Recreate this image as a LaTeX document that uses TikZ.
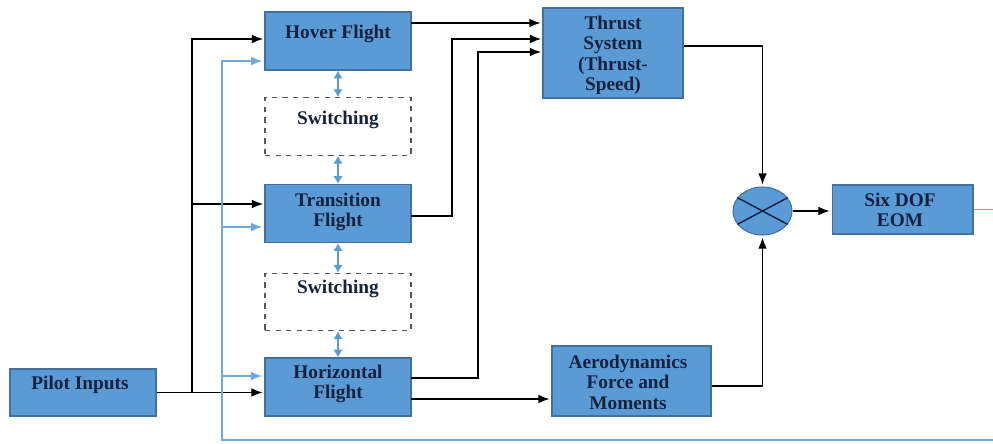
\documentclass[tikz,border=0pt]{standalone}
\usepackage{fontspec}
\setmainfont{Liberation Serif}
\usepackage{tikz}
\usetikzlibrary{shapes.geometric, arrows.meta, positioning, calc}
\definecolor{flightblue}{HTML}{5B9BD5}
\definecolor{flightedge}{HTML}{41719C}
\definecolor{flightnavy}{HTML}{14223F}
\definecolor{flightfb}{HTML}{6FA8DC}
\definecolor{flightdash}{HTML}{555555}

\begin{document}
\begin{tikzpicture}[
    x=0.02cm, y=-0.02cm,
    blk/.style={draw=flightedge, fill=flightblue, line width=0.6pt, inner sep=0pt, minimum width=2.92cm, minimum height=1.16cm},
    swbox/.style={draw=flightdash, dashed, fill=white, line width=0.6pt, inner sep=0pt, minimum width=2.92cm, minimum height=1.15cm},
    lbl/.style={font=\fontsize{11}{11.5}\selectfont\bfseries, text=flightnavy, align=center, anchor=north, inner sep=0pt},
    arr/.style={-{Latex[length=6.5pt,width=5pt]}, line width=0.9pt, black, shorten >=1pt},
    fbarr/.style={-{Latex[length=6.5pt,width=5pt]}, line width=0.9pt, flightfb, shorten >=1.5pt},
    dbl/.style={{Latex[length=4.5pt,width=5.5pt]}-{Latex[length=4.5pt,width=5.5pt]}, line width=0.9pt, flightblue}
  ]
    \useasboundingbox (0,0) rectangle (993,443);
    \clip (0,0) rectangle (993,443);
    % blocks
    \node[blk] (hover) at (338,41) {};
    \node[swbox] (sw1) at (338,126.5) {};
    \node[blk] (tflt) at (338,213.5) {};
    \node[swbox] (sw2) at (338,302) {};
    \node[blk] (hflt) at (338,387) {};
    \node[blk, minimum height=0.94cm] (pilot) at (83,392.5) {};
    \node[blk, minimum width=2.8cm, minimum height=1.8cm] (thrust) at (613,53) {};
    \node[blk, minimum width=2.82cm, minimum height=0.98cm] (six) at (902.5,209.5) {};
    \node[blk, minimum width=3.18cm, minimum height=1.4cm] (aero) at (631.5,381) {};
    \node[ellipse, draw=flightedge, fill=flightblue, line width=0.6pt, minimum width=1.18cm, minimum height=0.96cm, inner sep=0pt] (sum) at (762.5,211) {};
    \draw[flightnavy, line width=0.8pt] (sum.152) -- (sum.-28);
    \draw[flightnavy, line width=0.8pt] (sum.208) -- (sum.28);
    % texts
    \node[lbl] (hover-t) at (338,24.5) {Hover Flight};
    \node[lbl] (sw1-t) at (338,110.5) {Switching};
    \node[lbl] (tflt-t) at (338,192.5) {Transition\\Flight};
    \node[lbl] (sw2-t) at (338,280) {Switching};
    \node[lbl] (hflt-t) at (338,365) {Horizontal\\Flight};
    \node[lbl] (pilot-t) at (80,376) {Pilot Inputs};
    \node[lbl] (thrust-t) at (613,16) {Thrust\\System\\(Thrust-\\Speed)};
    \node[lbl] (six-t) at (900,193) {Six DOF\\EOM};
    \node[lbl] (aero-t) at (628,355) {Aerodynamics\\Force and\\Moments};
    % ports
    \coordinate (jb) at (192,392.5);
    \coordinate (hin1) at (265,39);
    \coordinate (hin2) at (265,61);
    \coordinate (tin1) at (265,204);
    \coordinate (tin2) at (265,227);
    \coordinate (zin2) at (265,376);
    \coordinate (fbx) at (222,440);
    \coordinate (hout) at (411,23);
    \coordinate (tout) at (411,216);
    \coordinate (zout1) at (411,378);
    \coordinate (zout2) at (411,399);
    \coordinate (thin2) at (543,39);
    \coordinate (thin3) at (543,52);
    % pilot inputs
    \draw[arr] (pilot.east) -- (hflt.west |- pilot.east);
    \draw[arr] (jb) |- (hin1);
    \draw[arr] (jb |- tin1) -- (tin1);
    % feedback
    \draw[fbarr] (six.east) -- (1000,209.5) |- (fbx) |- (hin2);
    \draw[fbarr] (fbx |- tin2) -- (tin2);
    \draw[fbarr] (fbx |- zin2) -- (zin2);
    % switching
    \draw[dbl] (hover.south) -- (sw1.north);
    \draw[dbl] (sw1.south) -- (tflt.north);
    \draw[dbl] (tflt.south) -- (sw2.north);
    \draw[dbl] (sw2.south) -- (hflt.north);
    % to thrust and aero
    \draw[arr] (hout) -- (thrust.west |- hout);
    \draw[arr] (tout) -- ++(41,0) |- (thin2);
    \draw[arr] (zout1) -- ++(67,0) |- (thin3);
    \draw[arr] (zout2) -- (aero.west |- zout2);
    % to sum and EOM
    \draw[arr] ($(thrust.east)+(0,-7)$) -| (sum.north);
    \draw[arr] ($(aero.east)+(0,5)$) -| (sum.south);
    \draw[arr] (sum.east) -- (six.west |- sum.east);
  \end{tikzpicture}
\end{document}
